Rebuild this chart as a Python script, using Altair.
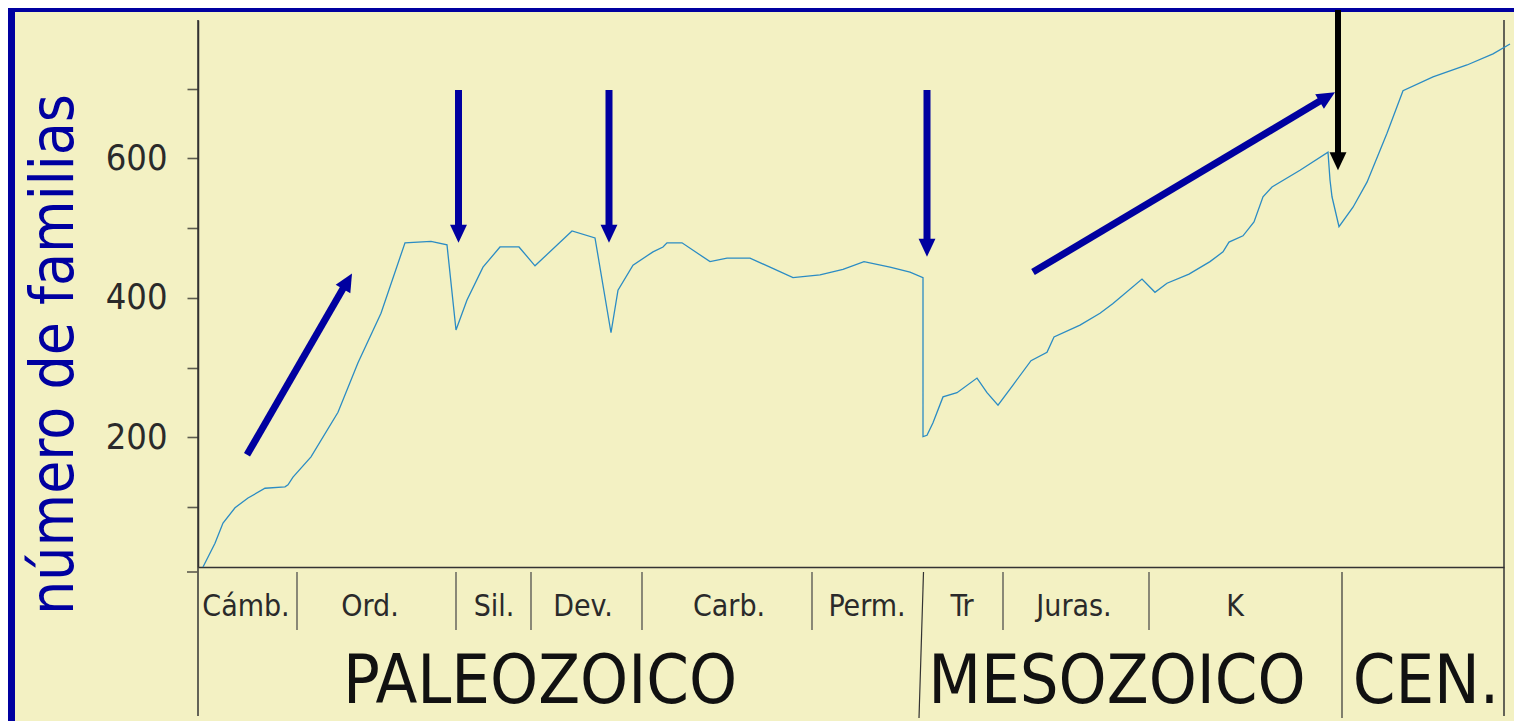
import altair as alt
import pandas as pd

# ---- data ----
# x: relative geological time (schematic units), y: number of families
curve_x = [5, 17, 25, 37, 50, 67, 87, 90, 95, 113, 140, 160, 183, 207, 233, 249, 258, 269, 285, 302,
           321, 337, 374, 397, 413, 420, 435, 455, 465, 469, 484, 512, 529, 552, 572, 595, 622, 645, 666, 692,
           712, 725, 725, 729, 735, 745, 759, 779, 789, 800, 815, 833, 849, 856, 882, 902, 915, 944, 957, 969,
           991, 1012, 1025, 1031, 1045, 1056, 1065, 1074, 1102, 1130, 1132, 1134, 1141, 1155, 1169, 1189, 1205,
           1235, 1269, 1295, 1312]
curve_y = [14, 48, 77, 99, 113, 127, 129, 132, 143, 172, 236, 307, 378, 479, 481, 476, 354, 397, 444, 473,
           473, 446, 496, 486, 350, 411, 447, 466, 473, 479, 479, 452, 457, 457, 444, 429, 433, 441, 452, 444,
           437, 429, 201, 203, 221, 258, 264, 285, 264, 246, 275, 310, 322, 344, 361, 378, 392, 427, 408, 421,
           434, 452, 466, 480, 489, 509, 545, 559, 583, 609, 569, 545, 502, 530, 566, 636, 697, 717, 734, 750,
           764]

period_labels = ["Cámb.", "Ord.", "Sil.", "Dev.", "Carb.", "Perm.", "Tr", "Juras.", "K"]
period_centers = [48, 172, 296, 385, 531, 669, 764, 876, 1037]
period_bounds = [99, 258, 333, 444, 614, 805, 951]

era_labels = ["PALEOZOICO", "MESOZOICO", "CEN."]
era_centers = [342, 919, 1228]
era_bounds_top = [725.5, 1144]
era_bounds_bottom = [721, 1144]

y_ticks = [100, 200, 300, 400, 500, 600, 700]

# arrows: shaft start, shaft end, tip, head angle (deg, clockwise from up), colour
arrow_x0 = [49, 260.5, 411, 729, 835, 1140]
arrow_y0 = [175, 698, 698, 698, 437, 813]
arrow_x1 = [146.5, 260.5, 411, 729, 1124, 1140]
arrow_y1 = [417, 501, 501, 480, 684, 605]
arrow_xt = [154, 260.5, 411, 729, 1137, 1140]
arrow_yt = [435, 479, 479, 459, 695, 583]
arrow_ang = [30, 180, 180, 180, 59, 180]
arrow_col = ["#0000a0", "#0000a0", "#0000a0", "#0000a0", "#0000a0", "#000000"]
arrow_w = [7, 7, 7, 7, 7, 6]

X_MAX = 1306
Y_DOM = [14.05, 798.5]

NARROW = "DejaVu Sans Condensed, Liberation Sans Narrow, sans-serif"
BG = "#f3f1c3"
BLUE = "#0000a0"
INK = "#2a2a2a"

xs = alt.Scale(domain=[0, X_MAX], nice=False, zero=False)
ys = alt.Scale(domain=Y_DOM, nice=False, zero=False)

curve_df = pd.DataFrame({"t": curve_x, "n": curve_y})
arrows_df = pd.DataFrame({"x0": arrow_x0, "y0": arrow_y0, "x1": arrow_x1, "y1": arrow_y1,
                          "xt": arrow_xt, "yt": arrow_yt, "ang": arrow_ang, "col": arrow_col,
                          "w": arrow_w})
periods_df = pd.DataFrame({"label": period_labels, "c": period_centers})
pbounds_df = pd.DataFrame({"b": period_bounds})
eras_df = pd.DataFrame({"label": era_labels, "c": era_centers})
ebounds_df = pd.DataFrame({"top": era_bounds_top, "bottom": era_bounds_bottom})
edge_df = pd.DataFrame({"b": [0, X_MAX]})

label_expr = "(datum.value == 200 || datum.value == 400 || datum.value == 600) ? datum.label : ''"

line = alt.Chart(curve_df).mark_line(color="#2b8cc4", strokeWidth=1.3).encode(
    x=alt.X("t:Q", scale=xs,
            axis=alt.Axis(ticks=False, labels=False, title=None, grid=False,
                          domainColor="#333333", domainWidth=1.5)),
    y=alt.Y("n:Q", scale=ys,
            axis=alt.Axis(values=y_ticks, labelExpr=label_expr, grid=False,
                          tickSize=11, tickWidth=1.6, tickColor="#5c5b4e",
                          domainColor="#333333", domainWidth=1.5,
                          labelPadding=20, labelFontSize=36, labelFont=NARROW, labelColor=INK,
                          title="número de familias", titleFont=NARROW, titleFontSize=60,
                          titleFontWeight="normal", titleColor=BLUE, titleAngle=270,
                          titleX=-126, titleY=334, titleAlign="center",
                          titleBaseline="alphabetic")),
)

shafts = alt.Chart(arrows_df).mark_rule(strokeCap="butt").encode(
    x=alt.X("x0:Q", scale=xs), y=alt.Y("y0:Q", scale=ys),
    x2="x1:Q", y2="y1:Q",
    color=alt.Color("col:N", scale=None),
    strokeWidth=alt.StrokeWidth("w:Q", scale=None),
)

heads = alt.Chart(arrows_df).mark_point(
    shape="M0,0 L0.47,1 L-0.47,1 Z", filled=True, opacity=1, size=1296, strokeWidth=0
).encode(
    x=alt.X("xt:Q", scale=xs), y=alt.Y("yt:Q", scale=ys),
    angle=alt.Angle("ang:Q", scale=None),
    color=alt.Color("col:N", scale=None),
)

# time-scale table below the plot
pbounds = alt.Chart(pbounds_df).mark_rule(color="#444444", strokeWidth=1.2).encode(
    x=alt.X("b:Q", scale=xs), y=alt.value(552), y2=alt.value(610)
)
ebounds = alt.Chart(ebounds_df).mark_rule(color="#333333", strokeWidth=1.2).encode(
    x=alt.X("top:Q", scale=xs), x2="bottom:Q", y=alt.value(552), y2=alt.value(698)
)
edges = alt.Chart(edge_df).mark_rule(color="#333333", strokeWidth=1.5).encode(
    x=alt.X("b:Q", scale=xs), y=alt.value(0), y2=alt.value(696)
)
zero_tick = alt.Chart(edge_df.head(1)).mark_rule(color="#5c5b4e", strokeWidth=1.6).encode(
    x=alt.value(-11), x2=alt.value(0), y=alt.value(552)
)

period_text = alt.Chart(periods_df).mark_text(
    font=NARROW, fontSize=30, color=INK, align="center", baseline="alphabetic"
).encode(x=alt.X("c:Q", scale=xs), y=alt.value(596), text="label:N")

era_text = alt.Chart(eras_df).mark_text(
    font=NARROW, fontSize=68, color="#111111", align="center", baseline="alphabetic"
).encode(x=alt.X("c:Q", scale=xs), y=alt.value(683), text="label:N")

# slide frame (blue strips)
frame_left = alt.Chart(edge_df.head(1)).mark_rect(color=BLUE).encode(
    x=alt.value(-190), x2=alt.value(-183), y=alt.value(-12), y2=alt.value(701)
)
frame_top = alt.Chart(edge_df.head(1)).mark_rect(color=BLUE).encode(
    x=alt.value(-190), x2=alt.value(X_MAX + 10), y=alt.value(-12), y2=alt.value(-8)
)

chart = alt.layer(
    frame_left, frame_top, pbounds, ebounds, edges, zero_tick,
    period_text, era_text, line, shafts, heads
).properties(
    width=X_MAX, height=547,
    padding={"left": 190, "top": 12, "right": 10, "bottom": 154},
    autosize=alt.AutoSizeParams(type="none"),
    background=BG,
).configure_view(stroke=None)

chart.save("out.html", embed_options={"renderer": "svg", "actions": False})
